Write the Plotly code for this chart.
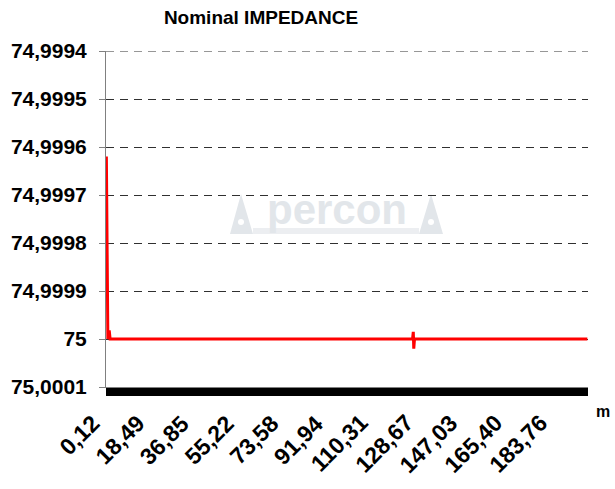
import plotly.graph_objects as go

# ---- data ----
distance_m = [0.12, 0.43, 0.73, 1.04, 1.35, 1.65, 1.96, 60.0, 125.9, 126.2, 126.4, 126.7, 197.7]
impedance = [74.99962, 74.999985, 75.0, 74.999985, 74.999985, 75.0, 75.0, 75.0, 75.0,
             74.999985, 75.00002, 75.0, 75.0]

x_tick_vals = [0.12, 18.49, 36.85, 55.22, 73.58, 91.94, 110.31, 128.67, 147.03, 165.40, 183.76]
x_tick_text = ["0,12", "18,49", "36,85", "55,22", "73,58", "91,94", "110,31", "128,67",
               "147,03", "165,40", "183,76"]
y_tick_vals = [74.9994, 74.9995, 74.9996, 74.9997, 74.9998, 74.9999, 75.0, 75.0001]
y_tick_text = ["74,9994", "74,9995", "74,9996", "74,9997", "74,9998", "74,9999", "75", "75,0001"]

title_text = "Nominal IMPEDANCE"
unit_text = "m"
FONT = "Liberation Sans, Arial, sans-serif"

W, H = 615, 489
PL, PR, PT, PB = 106, 588, 51, 387  # plot area in pixels


def px(xp, yp):
    """pixel -> paper coords"""
    return (xp - PL) / (PR - PL), 1 - (yp - PT) / (PB - PT)


fig = go.Figure()
fig.add_trace(go.Scatter(x=distance_m, y=impedance, mode="lines",
                         line=dict(color="#ff0000", width=3), hoverinfo="skip",
                         showlegend=False))

fig.update_layout(
    width=W, height=H,
    margin=dict(l=PL, r=W - PR, t=PT, b=H - PB, autoexpand=False),
    paper_bgcolor="white", plot_bgcolor="white",
    font=dict(family=FONT, color="black"),
    title=dict(text="<b>" + title_text + "</b>", x=261 / W, xanchor="center",
               y=1 - 17 / H, yanchor="middle", yref="container",
               font=dict(size=19, family=FONT, color="black")),
    showlegend=False,
)

fig.update_xaxes(
    range=[-0.03, 197.97], tickmode="array", tickvals=x_tick_vals, ticktext=x_tick_text,
    showticklabels=False,
    showgrid=False, zeroline=False, showline=True, linecolor="#808080", linewidth=1,
    ticks="outside", ticklen=8, tickcolor="black", tickwidth=1,
    minor=dict(ticks="outside", ticklen=8, tickcolor="black", tickwidth=1,
               dtick=0.3061, tick0=0.12, showgrid=False),
)
fig.update_yaxes(
    range=[75.0001, 74.9994], tickmode="array", tickvals=y_tick_vals, ticktext=y_tick_text,
    tickfont=dict(size=21, family=FONT, color="black", weight="bold"),
    showgrid=True, gridcolor="#303030", gridwidth=1, griddash="8px,6px",
    zeroline=False, showline=True, linecolor="#808080", linewidth=1,
    ticks="outside", ticklen=6, tickcolor="#808080", ticklabelstandoff=8,
)

# top gridline (at range edge)
fig.add_shape(type="line", xref="paper", yref="y", x0=0, x1=1, y0=y_tick_vals[0],
              y1=y_tick_vals[0], line=dict(color="#303030", width=1, dash="8px,6px"))

# rotated x tick labels
lab_y = px(0, 407)[1]
for v, t in zip(x_tick_vals, x_tick_text):
    fig.add_annotation(text="<b>" + t + "</b>", x=v, xref="x", y=lab_y, yref="paper",
                       showarrow=False, textangle=-45, xanchor="right", yanchor="top",
                       xshift=1, font=dict(size=23, family=FONT, color="black"))

# unit label
ux, uy = px(603, 411)
fig.add_annotation(text="<b>" + unit_text + "</b>", xref="paper", yref="paper",
                   x=ux, y=uy, showarrow=False, xanchor="center", yanchor="middle",
                   font=dict(size=16, family=FONT, color="black"))

# watermark logo
wm = "#e2e6ea"
wx, wy = px(336.5, 209)
fig.add_annotation(text="<b>percon</b>", xref="paper", yref="paper",
                   x=wx, y=wy, showarrow=False, xanchor="center", yanchor="middle",
                   font=dict(size=42, family=FONT, color=wm))
for tri in ([(230, 234), (241, 194), (253, 234)], [(419, 234), (431, 194), (443, 234)]):
    pts = [px(a, b) for a, b in tri]
    path = "M {} {} L {} {} L {} {} Z".format(pts[0][0], pts[0][1], pts[1][0], pts[1][1],
                                              pts[2][0], pts[2][1])
    fig.add_shape(type="path", path=path, xref="paper", yref="paper",
                  fillcolor=wm, line=dict(width=0), layer="below")
for cx, cy in [(241, 222), (431, 222)]:
    a0, b0 = px(cx - 3, cy - 3)
    a1, b1 = px(cx + 3, cy + 3)
    fig.add_shape(type="circle", x0=a0, y0=b0, x1=a1, y1=b1, xref="paper", yref="paper",
                  fillcolor="white", line=dict(width=0), layer="below")
x0, y0 = px(253, 228)
x1, y1 = px(419, 234)
fig.add_shape(type="rect", x0=x0, y0=y0, x1=x1, y1=y1, xref="paper", yref="paper",
              fillcolor="#eceef1", line=dict(width=0), layer="below")

fig.write_html("out.html", config={"displayModeBar": False},
               post_script="document.body.style.margin='0';document.body.style.overflow='hidden';")
